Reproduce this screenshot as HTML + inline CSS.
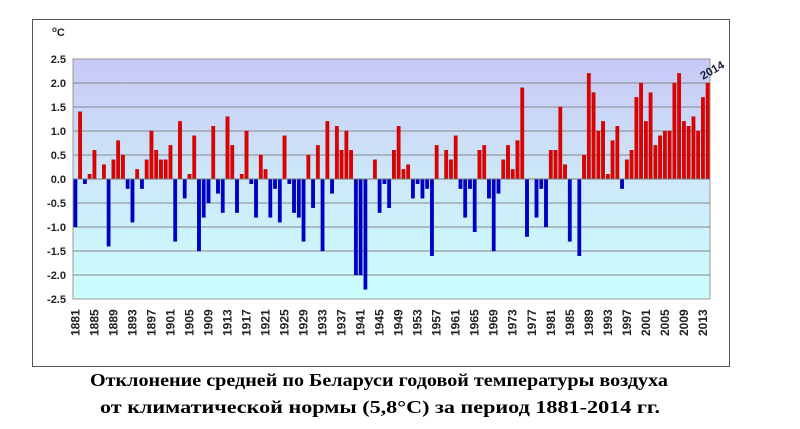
<!DOCTYPE html>
<html><head><meta charset="utf-8"><style>
body{margin:0;background:#fff;width:800px;height:429px;overflow:hidden}
svg{display:block}
text{font-family:"Liberation Sans",sans-serif}
</style></head><body>
<svg id="s" width="800" height="429" viewBox="0 0 800 429" xmlns="http://www.w3.org/2000/svg">
<defs><linearGradient id="g" x1="0" y1="0" x2="0" y2="1">
<stop offset="0" stop-color="#c8c8f6"/><stop offset="0.5" stop-color="#cde8f8"/><stop offset="1" stop-color="#ccfefe"/></linearGradient></defs>
<rect x="32.5" y="19.5" width="697" height="347" fill="#fff" stroke="#555" stroke-width="1"/>
<rect x="73" y="59" width="637" height="240" fill="url(#g)" stroke="#999"/>
<g stroke="#888" stroke-width="1">
<line x1="73" x2="710" y1="83" y2="83"/><line x1="73" x2="710" y1="107" y2="107"/><line x1="73" x2="710" y1="131" y2="131"/><line x1="73" x2="710" y1="155" y2="155"/><line x1="73" x2="710" y1="203" y2="203"/><line x1="73" x2="710" y1="227" y2="227"/><line x1="73" x2="710" y1="251" y2="251"/><line x1="73" x2="710" y1="275" y2="275"/>
</g>
<g id="bars"></g>
<line x1="73" x2="710" y1="179" y2="179" stroke="#777"/>
<g font-size="11" font-weight="bold" text-anchor="end" fill="#222">
<text x="66" y="63">2.5</text><text x="66" y="87">2.0</text><text x="66" y="111">1.5</text><text x="66" y="135">1.0</text><text x="66" y="159">0.5</text><text x="66" y="183">0.0</text><text x="66" y="207">-0.5</text><text x="66" y="231">-1.0</text><text x="66" y="255">-1.5</text><text x="66" y="279">-2.0</text><text x="66" y="303">-2.5</text>
</g>
<text x="52" y="36" font-size="11" font-weight="bold" fill="#222"><tspan font-size="8" dy="-4">o</tspan><tspan dy="4">C</tspan></text>
<g font-size="12" font-weight="bold" fill="#222">
<text transform="translate(79.4,336) rotate(-90)">1881</text><text transform="translate(98.4,336) rotate(-90)">1885</text><text transform="translate(117.4,336) rotate(-90)">1889</text><text transform="translate(136.4,336) rotate(-90)">1893</text><text transform="translate(155.5,336) rotate(-90)">1897</text><text transform="translate(174.5,336) rotate(-90)">1901</text><text transform="translate(193.5,336) rotate(-90)">1905</text><text transform="translate(212.5,336) rotate(-90)">1909</text><text transform="translate(231.5,336) rotate(-90)">1913</text><text transform="translate(250.5,336) rotate(-90)">1917</text><text transform="translate(269.6,336) rotate(-90)">1921</text><text transform="translate(288.6,336) rotate(-90)">1925</text><text transform="translate(307.6,336) rotate(-90)">1929</text><text transform="translate(326.6,336) rotate(-90)">1933</text><text transform="translate(345.6,336) rotate(-90)">1937</text><text transform="translate(364.6,336) rotate(-90)">1941</text><text transform="translate(383.6,336) rotate(-90)">1945</text><text transform="translate(402.7,336) rotate(-90)">1949</text><text transform="translate(421.7,336) rotate(-90)">1953</text><text transform="translate(440.7,336) rotate(-90)">1957</text><text transform="translate(459.7,336) rotate(-90)">1961</text><text transform="translate(478.7,336) rotate(-90)">1965</text><text transform="translate(497.7,336) rotate(-90)">1969</text><text transform="translate(516.7,336) rotate(-90)">1973</text><text transform="translate(535.8,336) rotate(-90)">1977</text><text transform="translate(554.8,336) rotate(-90)">1981</text><text transform="translate(573.8,336) rotate(-90)">1985</text><text transform="translate(592.8,336) rotate(-90)">1989</text><text transform="translate(611.8,336) rotate(-90)">1993</text><text transform="translate(630.8,336) rotate(-90)">1997</text><text transform="translate(649.9,336) rotate(-90)">2001</text><text transform="translate(668.9,336) rotate(-90)">2005</text><text transform="translate(687.9,336) rotate(-90)">2009</text><text transform="translate(706.9,336) rotate(-90)">2013</text>
</g>
<text transform="translate(703,80) rotate(-30)" font-size="11.5" font-weight="bold" fill="#1a1a3a">2014</text>
<g font-weight="bold" font-size="18" fill="#000">
<text x="90" y="386" textLength="578" lengthAdjust="spacingAndGlyphs" style="font-family:'Liberation Serif',serif">Отклонение средней по Беларуси годовой температуры воздуха</text>
<text x="100" y="413" textLength="560" lengthAdjust="spacingAndGlyphs" style="font-family:'Liberation Serif',serif">от климатической нормы (5,8°C) за период 1881-2014 гг.</text>
</g>
</svg>
<script>
var d=[-1.0,1.4,-0.1,0.1,0.6,0,0.3,-1.4,0.4,0.8,0.5,-0.2,-0.9,0.2,-0.2,0.4,1.0,0.6,0.4,0.4,0.7,-1.3,1.2,-0.4,0.1,0.9,-1.5,-0.8,-0.5,1.1,-0.3,-0.7,1.3,0.7,-0.7,0.1,1.0,-0.1,-0.8,0.5,0.2,-0.8,-0.2,-0.9,0.9,-0.1,-0.7,-0.8,-1.3,0.5,-0.6,0.7,-1.5,1.2,-0.3,1.1,0.6,1.0,0.6,-2.0,-2.0,-2.3,0,0.4,-0.7,-0.1,-0.6,0.6,1.1,0.2,0.3,-0.4,-0.1,-0.4,-0.2,-1.6,0.7,0,0.6,0.4,0.9,-0.2,-0.8,-0.2,-1.1,0.6,0.7,-0.4,-1.5,-0.3,0.4,0.7,0.2,0.8,1.9,-1.2,0,-0.8,-0.2,-1.0,0.6,0.6,1.5,0.3,-1.3,0,-1.6,0.5,2.2,1.8,1.0,1.2,0.1,0.8,1.1,-0.2,0.4,0.6,1.7,2.0,1.2,1.8,0.7,0.9,1.0,1.0,2.0,2.2,1.2,1.1,1.3,1.0,1.7,2.0];
var h='';for(var i=0;i<d.length;i++){var v=d[i];if(!v)continue;var x=73+4.754*(i+0.5)-1.7,h2=Math.abs(v)*48,y=v>0?179-h2:179;
h+='<rect x="'+x.toFixed(2)+'" y="'+y.toFixed(1)+'" width="3.4" height="'+h2.toFixed(1)+'" fill="'+(v>0?'#e00000':'#0000c8')+'" stroke="'+(v>0?'#b00000':'#00009a')+'" stroke-width="0.4"/>';}
document.getElementById('bars').innerHTML=h;
</script>
</body></html>
